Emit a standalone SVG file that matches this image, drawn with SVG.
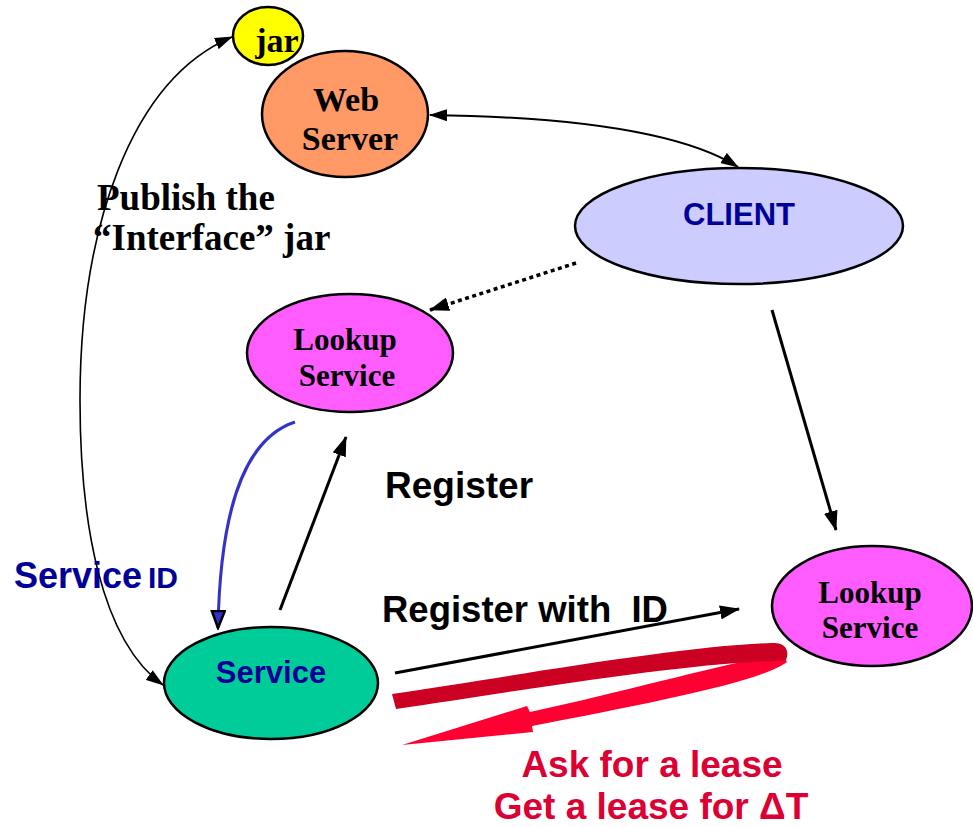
<svg xmlns="http://www.w3.org/2000/svg" width="973" height="827" viewBox="0 0 973 827">
<style>
.node{stroke:#000;stroke-width:2.5}
.tb{font-family:"Liberation Serif","Times New Roman",serif;font-weight:bold;fill:#000}
.ab{font-family:"Liberation Sans",Arial,sans-serif;font-weight:bold}
.conn{fill:none;stroke:#000}
</style>
<defs>
<marker id="ah" viewBox="0 0 20 14" refX="19" refY="7" markerWidth="20" markerHeight="14" orient="auto-start-reverse" markerUnits="userSpaceOnUse"><path d="M0,0 L20,7 L0,14 Z" fill="#000"/></marker>
<marker id="ahs" viewBox="0 0 18 12" refX="17" refY="6" markerWidth="18" markerHeight="12" orient="auto-start-reverse" markerUnits="userSpaceOnUse"><path d="M0,0 L18,6 L0,12 Z" fill="#000"/></marker>
<marker id="ahb" viewBox="0 0 20 16" refX="18" refY="8" markerWidth="20" markerHeight="16" orient="auto" markerUnits="userSpaceOnUse"><path d="M1,1.5 L18,8 L1,14.5 Z" fill="#3333cc" stroke="#000" stroke-width="2.5" stroke-linejoin="miter"/></marker>
</defs>
<rect width="973" height="827" fill="#fff"/>

<g id="connectors">
<path class="conn" d="M163 685 C100 640,80 520,80 400 C80 230,130 80,232 37" stroke-width="1.6" marker-start="url(#ahs)" marker-end="url(#ahs)"/>
<path class="conn" d="M430 115 Q660 118 738 167" stroke-width="2" marker-start="url(#ahs)" marker-end="url(#ahs)"/>
<path class="conn" d="M576 263 L430 310" stroke-width="3.5" stroke-dasharray="4 3.5" marker-end="url(#ah)"/>
<path class="conn" d="M772 310 L836 530" stroke-width="3" marker-end="url(#ah)"/>
<path class="conn" d="M280 610 L346 437" stroke-width="3" marker-end="url(#ah)"/>
<path d="M295 422 C240 440,220 520,218 628" fill="none" stroke="#3333cc" stroke-width="3" marker-end="url(#ahb)"/>
<path class="conn" d="M395 673 L739 609" stroke-width="3" marker-end="url(#ah)"/>
<path d="M782 654 C730 662,630 690,530 712 L527 706 L402 745 L533 732 L532 726 C650 703,760 682,787 662 Z" fill="#ff0033"/>
<path d="M392 694 C520 675,680 646,772 643 C785 642,790 650,786 660 L780 661 C680 663,520 691,396 709 Z" fill="#cc0022"/>
</g>

<g id="jar">
<ellipse class="node" cx="268" cy="36" rx="35" ry="29" fill="#ffff00"/>
<text class="tb" x="277" y="52" font-size="34" text-anchor="middle">jar</text>
</g>
<g id="webserver">
<ellipse class="node" cx="345" cy="114" rx="83" ry="63" fill="#ff9966"/>
<text class="tb" x="346" y="111" font-size="34" text-anchor="middle">Web</text>
<text class="tb" x="350" y="150" font-size="34" text-anchor="middle">Server</text>
</g>
<g id="client">
<ellipse class="node" cx="739" cy="226" rx="164" ry="58" fill="#ccccff"/>
<text class="ab" x="739" y="225" font-size="31" fill="#000099" text-anchor="middle">CLIENT</text>
</g>
<g id="lookup1">
<ellipse class="node" cx="350" cy="353" rx="103" ry="59" fill="#ff5cff"/>
<text class="tb" x="345" y="350" font-size="31" text-anchor="middle">Lookup</text>
<text class="tb" x="347" y="386" font-size="31" text-anchor="middle">Service</text>
</g>
<g id="lookup2">
<ellipse class="node" cx="872" cy="606" rx="100" ry="60" fill="#ff5cff"/>
<text class="tb" x="870" y="603" font-size="31" text-anchor="middle">Lookup</text>
<text class="tb" x="870" y="638" font-size="31" text-anchor="middle">Service</text>
</g>
<g id="service">
<ellipse class="node" cx="271" cy="683" rx="107" ry="56" fill="#00cc99"/>
<text class="ab" x="271" y="683" font-size="31" fill="#000099" text-anchor="middle">Service</text>
</g>

<g id="labels">
<text class="tb" x="97" y="210" font-size="37">Publish the</text>
<text class="tb" x="93" y="250" font-size="37">“Interface” jar</text>
<text class="ab" x="385" y="498" font-size="37" fill="#000">Register</text>
<text class="ab" x="382" y="622" font-size="36.5" fill="#000" style="white-space:pre" xml:space="preserve">Register with  ID</text>
<text class="ab" x="14" y="588" fill="#000099"><tspan font-size="36">Service</tspan><tspan x="148" font-size="30">ID</tspan></text>
<text class="ab" x="652" y="777" font-size="37" fill="#dd0033" text-anchor="middle">Ask for a lease</text>
<text class="ab" x="651" y="819" font-size="37" fill="#dd0033" text-anchor="middle">Get a lease for ΔT</text>
</g>
</svg>
